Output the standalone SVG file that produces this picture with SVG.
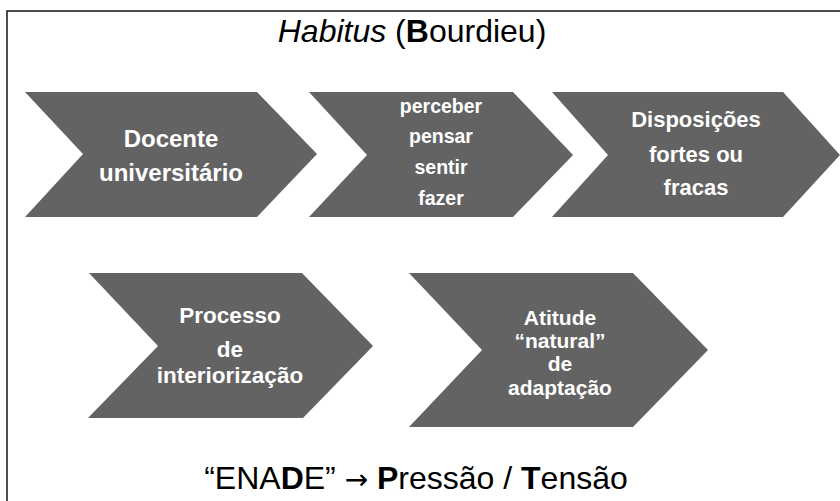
<svg xmlns="http://www.w3.org/2000/svg" width="840" height="501" viewBox="0 0 840 501">
<style>
.chev{fill:#636363;}
.lbl{font-family:"Liberation Sans",Arial,sans-serif;font-weight:bold;fill:#ffffff;text-anchor:middle;}
.big{font-family:"Liberation Sans",Arial,sans-serif;fill:#000000;text-anchor:middle;font-size:32px;}
</style>
<rect x="0" y="0" width="840" height="501" fill="#ffffff"/>
<rect x="7" y="11" width="900" height="600" fill="none" stroke="#222222" stroke-width="1.6"/>
<text class="big" x="412" y="42"><tspan font-style="italic">Habitus</tspan> (<tspan font-weight="bold">B</tspan>ourdieu)</text>
<g id="connectors"/>
<g id="n1">
<polygon class="chev" points="25,92 257,92 317,154 257,217 25,217 83,154"/>
<text class="lbl" font-size="24" x="171" y="147">Docente</text>
<text class="lbl" font-size="24" x="171" y="181">universitário</text>
</g>
<g id="n2">
<polygon class="chev" points="309,92 513,92 573,155 513,217 309,217 367,155"/>
<text class="lbl" font-size="19.5" x="441" y="113">perceber</text>
<text class="lbl" font-size="19.5" x="441" y="143">pensar</text>
<text class="lbl" font-size="19.5" x="441" y="174">sentir</text>
<text class="lbl" font-size="19.5" x="441" y="205">fazer</text>
</g>
<g id="n3">
<polygon class="chev" points="552,92 783,92 840,155 783,217 552,217 608,155"/>
<text class="lbl" font-size="22" x="696" y="127">Disposições</text>
<text class="lbl" font-size="22" x="696" y="162">fortes ou</text>
<text class="lbl" font-size="22" x="696" y="195">fracas</text>
</g>
<g id="n4">
<polygon class="chev" points="89,273 302,273 373,346 303,418 88,418 158,346"/>
<text class="lbl" font-size="22.5" x="230" y="323">Processo</text>
<text class="lbl" font-size="22.5" x="230" y="357">de</text>
<text class="lbl" font-size="22.5" x="230" y="383">interiorização</text>
</g>
<g id="n5">
<polygon class="chev" points="409,273 633,273 708,350 633,427 409,427 482,350"/>
<text class="lbl" font-size="21" x="560" y="325">Atitude</text>
<text class="lbl" font-size="21" x="560" y="348">“natural”</text>
<text class="lbl" font-size="21" x="560" y="371">de</text>
<text class="lbl" font-size="21" x="560" y="395">adaptação</text>
</g>
<text class="big" x="416" y="489">“ENA<tspan font-weight="bold">D</tspan>E” <tspan font-family="'DejaVu Sans',sans-serif" font-size="28">→</tspan> <tspan font-weight="bold">P</tspan>ressão / <tspan font-weight="bold">T</tspan>ensão</text>
</svg>
